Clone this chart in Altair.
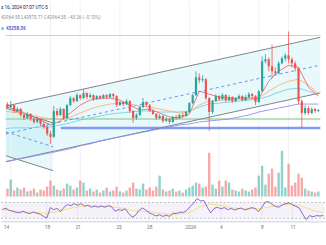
import altair as alt
import pandas as pd

GREEN = "#26a69a"
RED = "#ef5350"

# ---------------- data ----------------
# time = days after 14 Dec 2023 00:00, one candle every 8 hours
candle_t = [k / 3 for k in range(-1, 94)]

opens = [43275, 43050, 43200, 42750, 42900, 42450, 42225, 42525, 42150, 41925,
         42150, 41775, 41550, 41025, 40800, 42750, 42450, 42900, 42225, 43200,
         43725, 43500, 43950, 43725, 44100, 43800, 43950, 43650, 43875, 43725,
         43950, 43800, 44025, 43875, 43200, 43425, 43275, 43500, 42750, 42225,
         42450, 43050, 43425, 43200, 42750, 42525, 42225, 42375, 42000, 42150,
         41925, 42300, 42225, 42450, 42375, 42675, 43350, 43950, 45300, 45075,
         45150, 43725, 42675, 43500, 43875, 43650, 43950, 43575, 43800, 43500,
         43725, 43875, 43575, 43800, 44025, 43875, 43425, 44250, 46500, 46650,
         46125, 45750, 45600, 46350, 46725, 46950, 46650, 46350, 45975, 43500,
         42600, 42975, 42600, 42900, 42750]
highs = [43425, 43500, 43275, 43050, 42975, 42525, 42675, 42600, 42225, 42300,
         42225, 41925, 41700, 41250, 43125, 42975, 43050, 42975, 43275, 43875,
         43800, 44100, 44025, 44400, 44175, 44100, 44025, 43950, 43950, 44025,
         44025, 44100, 44100, 43950, 43500, 43500, 43650, 43575, 42825, 42600,
         43125, 43725, 43500, 43275, 42900, 42600, 42525, 42450, 42300, 42225,
         42375, 42450, 42525, 42600, 42750, 43425, 44025, 45750, 45600, 45450,
         45225, 43800, 43575, 44025, 43950, 44100, 44025, 43950, 43875, 43800,
         44025, 43950, 43950, 44175, 44100, 43950, 44325, 46875, 47025, 46800,
         47775, 46050, 46500, 46875, 47100, 48750, 46800, 46500, 46050, 43650,
         43200, 43125, 43050, 42975, 42900]
lows = [42900, 42975, 42600, 42675, 42300, 42075, 42150, 42000, 41775, 41850,
        41625, 41400, 40875, 40275, 40725, 42300, 42375, 42075, 42150, 43125,
        43350, 43425, 43575, 43650, 43650, 43725, 43500, 43575, 43575, 43650,
        43650, 43725, 43725, 43050, 43125, 43125, 43200, 42600, 41850, 42075,
        42375, 42975, 43050, 42675, 42450, 42075, 42150, 41850, 41925, 41775,
        41850, 42075, 42150, 42225, 42300, 42600, 43275, 43875, 44850, 44925,
        43575, 41250, 42525, 43425, 43500, 43575, 43425, 43500, 43350, 43425,
        43650, 43500, 43500, 43725, 43725, 43200, 43350, 44175, 46350, 45750,
        45225, 45450, 45525, 46275, 46500, 46350, 46050, 45750, 43275, 41475,
        42450, 42450, 42525, 42600, 42675]
closes = [43050, 43200, 42750, 42900, 42450, 42225, 42525, 42150, 41925, 42150,
          41775, 41550, 41025, 40800, 42750, 42450, 42900, 42225, 43200, 43725,
          43500, 43950, 43725, 44100, 43800, 43950, 43650, 43875, 43725, 43950,
          43800, 44025, 43875, 43200, 43425, 43275, 43500, 42750, 42225, 42450,
          43050, 43425, 43200, 42750, 42525, 42225, 42375, 42000, 42150, 41925,
          42300, 42225, 42450, 42375, 42675, 43350, 43950, 45300, 45075, 45150,
          43725, 42675, 43500, 43875, 43650, 43950, 43575, 43800, 43500, 43725,
          43875, 43575, 43800, 44025, 43875, 43425, 44250, 46500, 46650, 46125,
          45750, 45600, 46350, 46725, 46950, 46650, 46350, 45975, 43500, 42600,
          42975, 42600, 42900, 42750, 42825]
volumes = [1600, 3400, 1200, 1800, 1400, 1800, 1000, 1200, 1600, 800,
           1400, 1200, 2000, 3200, 2200, 1400, 1200, 1600, 2600, 2200,
           1400, 1800, 3200, 2800, 1200, 1600, 1000, 1400, 800, 1200,
           1800, 1000, 1200, 2000, 1000, 800, 1200, 1800, 2800, 1600,
           1400, 2600, 1400, 1800, 1200, 2000, 4200, 1400, 1000, 1200,
           1600, 1000, 1200, 800, 1400, 1800, 2200, 2800, 2600, 1800,
           2000, 8800, 2400, 1600, 3200, 2000, 3200, 2800, 1400, 1200,
           1000, 1600, 1200, 1000, 1400, 1800, 4200, 6200, 2400, 4600,
           5600, 2000, 4800, 9200, 1800, 6600, 2200, 2800, 4600, 3800,
           1600, 1200, 1000, 800, 1000]
rsi_values = [53, 55, 50, 48, 45, 44, 48, 44, 42, 46,
              43, 41, 35, 31, 57, 52, 55, 47, 58, 65,
              62, 67, 63, 67, 61, 63, 58, 61, 58, 61,
              58, 62, 59, 48, 52, 50, 54, 42, 33, 38,
              50, 56, 51, 44, 40, 36, 39, 35, 38, 35,
              43, 42, 46, 45, 50, 60, 68, 80, 74, 75,
              58, 44, 55, 58, 54, 57, 52, 55, 51, 54,
              56, 51, 54, 57, 55, 47, 58, 71, 72, 65,
              60, 58, 64, 67, 69, 64, 60, 56, 40, 27,
              37, 34, 37, 36, 37]

# moving averages read once per day
ma_t = [-0.5] + list(range(0, 32))
ma_fast = [43050, 42975, 42750, 42375, 42075, 41700, 42000, 42600, 43200, 43575,
           43725, 43725, 43575, 43200, 42825, 42900, 42600, 42300, 42225, 42525,
           44250, 44025, 43800, 43725, 43725, 43725, 43725, 45000, 45750, 46200,
           46050, 44550, 43875]
ma_mid = [42750, 42675, 42600, 42450, 42300, 42150, 42150, 42300, 42600, 42900,
          43125, 43275, 43350, 43275, 43125, 43050, 42900, 42750, 42600, 42675,
          43200, 43500, 43575, 43575, 43650, 43650, 43725, 44250, 44700, 45000,
          45150, 44700, 44100]
ma_slow = [41400, 41475, 41475, 41475, 41550, 41550, 41700, 41850, 42075, 42225,
           42375, 42525, 42600, 42675, 42750, 42750, 42675, 42675, 42675, 42750,
           43050, 43275, 43350, 43425, 43500, 43575, 43650, 43875, 44175, 44400,
           44475, 44250, 43950]
ma_long = [38925, 39000, 39150, 39300, 39450, 39600, 39750, 39900, 40125, 40275,
           40500, 40650, 40800, 40950, 41100, 41250, 41400, 41550, 41700, 41775,
           41925, 42000, 42075, 42150, 42300, 42450, 42675, 42825, 42975, 43125,
           43275, 43275, 43275]
rsi_ma = [52, 51, 48, 46, 45, 43, 47, 54, 59, 62,
          62, 60, 57, 51, 48, 47, 43, 40, 41, 45,
          60, 66, 63, 57, 54, 54, 55, 60, 64, 65,
          60, 50, 44]

# drawings
chan_t = [-0.5, 31.2]
chan_upper = [43125, 48315]
chan_mid = [41025, 46215]
chan_lower = [38925, 44115]
left_t = [-0.5, 4.27]
left_upper = [42975, 41850]
left_mid = [41175, 40050]
left_lower = [39375, 38250]
level_cyan = 48450
level_green = 42150
level_blue = 41475
blue_start = 5.05

tick_t = [0, 4, 7, 11, 14, 18, 21, 25, 28]
tick_labels = ["14", "18", "21", "25", "28", "2024", "4", "8", "11"]

header_date = "s 16, 2024 07:07 UTC-5"
header_ohlc = "42964.55  L42870.71  C42964.55  \u221243.26 (\u22120.10%)"
indicator_value = "43258.39"

# ---------------- chart ----------------
candles = pd.DataFrame(dict(t=candle_t, open=opens, high=highs, low=lows,
                            close=closes, volume=volumes, rsi=rsi_values))
mas = pd.DataFrame(dict(t=ma_t, fast=ma_fast, mid=ma_mid, slow=ma_slow,
                        long=ma_long, rsi_ma=rsi_ma))
asc = pd.DataFrame(dict(t=chan_t, upper=chan_upper, mid=chan_mid, lower=chan_lower))
left = pd.DataFrame(dict(t=left_t, upper=left_upper, mid=left_mid, lower=left_lower))

XS = alt.Scale(domain=[-0.485, 31.17], nice=False, zero=False)
PS = alt.Scale(domain=[36225, 51000], nice=False, zero=False)
RS = alt.Scale(domain=[22.5, 82.5], nice=False, zero=False)

label_expr = " : ".join(f"datum.value == {v} ? '{l}'" for v, l in zip(tick_t, tick_labels)) + " : ''"
rsi_axis = alt.Axis(values=tick_t, labelExpr=label_expr, ticks=False, grid=False, title=None,
                    domain=True, domainColor="#e0e3eb", domainWidth=2,
                    labelFontSize=4.8, labelColor="#6f727c", labelFont="Roboto",
                    labelPadding=3, labelOverlap=False, labelFlush=False, labelBound=False)


def X():
    return alt.X("t:Q", scale=XS, axis=None)


def XA():
    return alt.X("t:Q", scale=XS, axis=rsi_axis, title=None)


def PY(f):
    return alt.Y(f"{f}:Q", scale=PS, axis=None)


color_up = alt.condition("datum.close >= datum.open", alt.value(GREEN), alt.value(RED))

grid = alt.Chart(pd.DataFrame({"t": tick_t})).mark_rule(
    color="#eef1f6", strokeWidth=1).encode(x=X())

fill_asc = alt.Chart(asc).mark_area(color="#00bcd4", opacity=0.09, clip=True).encode(
    x=X(), y=PY("upper"), y2="lower:Q")
fill_left = alt.Chart(left).mark_area(color="#00bcd4", opacity=0.09, clip=True).encode(
    x=X(), y=PY("upper"), y2="lower:Q")


def line(df, field, color, width=1.0, dash=None, opacity=1.0):
    kw = dict(color=color, strokeWidth=width, clip=True, opacity=opacity)
    if dash:
        kw["strokeDash"] = dash
    return alt.Chart(df).mark_line(**kw).encode(x=X(), y=PY(field))


asc_lines = [line(asc, "upper", "#80838c"), line(asc, "lower", "#80838c"),
             line(asc, "mid", "#6f8cf2", dash=[3, 3])]
left_lines = [line(left, "upper", "#80838c"), line(left, "lower", "#80838c"),
              line(left, "mid", "#6f8cf2", dash=[3, 3])]


def hlevel(price, t0, color, width):
    df = pd.DataFrame({"p": [price], "t0": [t0], "t1": [31.2]})
    return alt.Chart(df).mark_rule(color=color, strokeWidth=width, clip=True).encode(
        x=alt.X("t0:Q", scale=XS, axis=None), x2="t1:Q", y=PY("p"))


levels = [hlevel(level_cyan, -0.5, "#9fe0e6", 1.2),
          hlevel(level_green, -0.5, "#a5d6a7", 1.5),
          hlevel(level_blue, blue_start, "#7f9cf5", 2.6)]

vol = alt.Chart(candles).mark_bar(size=2.4, opacity=0.5).encode(
    x=X(),
    y=alt.Y("volume:Q", scale=alt.Scale(domain=[0, 10000], range=[196, 146]), axis=None),
    color=color_up)

ma_lines = [line(mas, "long", "#8f8ff2", 1.0, opacity=0.9),
            line(mas, "slow", "#6fd6e3", 1.0, opacity=0.9),
            line(mas, "mid", "#f7b27a", 1.0, opacity=0.9),
            line(mas, "fast", "#f4676f", 1.0, opacity=0.9)]

wicks = alt.Chart(candles).mark_rule(strokeWidth=0.8).encode(
    x=X(), y=PY("low"), y2="high:Q", color=color_up)
bodies = alt.Chart(candles).mark_bar(size=2.2).encode(
    x=X(), y=PY("open"), y2="close:Q", color=color_up)


def label(txt, x, y, color, size=4.6, weight="normal"):
    return alt.Chart(pd.DataFrame({"txt": [txt]})).mark_text(
        align="left", baseline="middle", fontSize=size, font="Roboto",
        color=color, fontWeight=weight).encode(
        x=alt.value(x), y=alt.value(y), text="txt:N")


texts = [label(header_date, 0, 6, "#131722"),
         label(header_ohlc, 0, 16, "#8d909a"),
         label(indicator_value, 5, 27, "#4a5bd4", weight="bold")]
square = alt.Chart(pd.DataFrame({"a": [1]})).mark_square(
    size=5, color="#26c6da", opacity=1).encode(x=alt.value(1.6), y=alt.value(27))

main = alt.layer(fill_asc, fill_left, grid, vol, *levels, *asc_lines, *left_lines,
                 *ma_lines, wicks, bodies, *texts, square).resolve_scale(
    y="independent").properties(width=326, height=197)

# RSI pane (every layer carries the same x axis definition so it is kept)
rsi_grid = alt.Chart(pd.DataFrame({"t": tick_t})).mark_rule(
    color="#eef1f6", strokeWidth=1).encode(x=XA())
band = alt.Chart(pd.DataFrame({"lo": [30], "hi": [70]})).mark_rect(
    color="#7e57c2", opacity=0.08).encode(y=alt.Y("lo:Q", scale=RS, axis=None), y2="hi:Q")
rsi_lvls = alt.Chart(pd.DataFrame({"v": [30, 70]})).mark_rule(
    color="#9598a1", strokeWidth=0.6, strokeDash=[2, 2]).encode(
    y=alt.Y("v:Q", scale=RS, axis=None))
rsi_line = alt.Chart(candles).mark_line(color="#7e57c2", strokeWidth=0.9, clip=True).encode(
    x=XA(), y=alt.Y("rsi:Q", scale=RS, axis=None))
rsi_ma_line = alt.Chart(mas).mark_line(color="#f5dd7a", strokeWidth=0.9, clip=True).encode(
    x=XA(), y=alt.Y("rsi_ma:Q", scale=RS, axis=None))

rsi_chart = alt.layer(rsi_grid, band, rsi_lvls, rsi_ma_line, rsi_line).properties(
    width=326, height=24)

chart = alt.vconcat(main, rsi_chart, spacing=0, bounds="flush").properties(
    padding={"left": 0, "right": 0, "top": 0, "bottom": 0},
    background="white").configure_view(stroke=None)

chart.save("out.html", embed_options={"renderer": "svg", "actions": False})
